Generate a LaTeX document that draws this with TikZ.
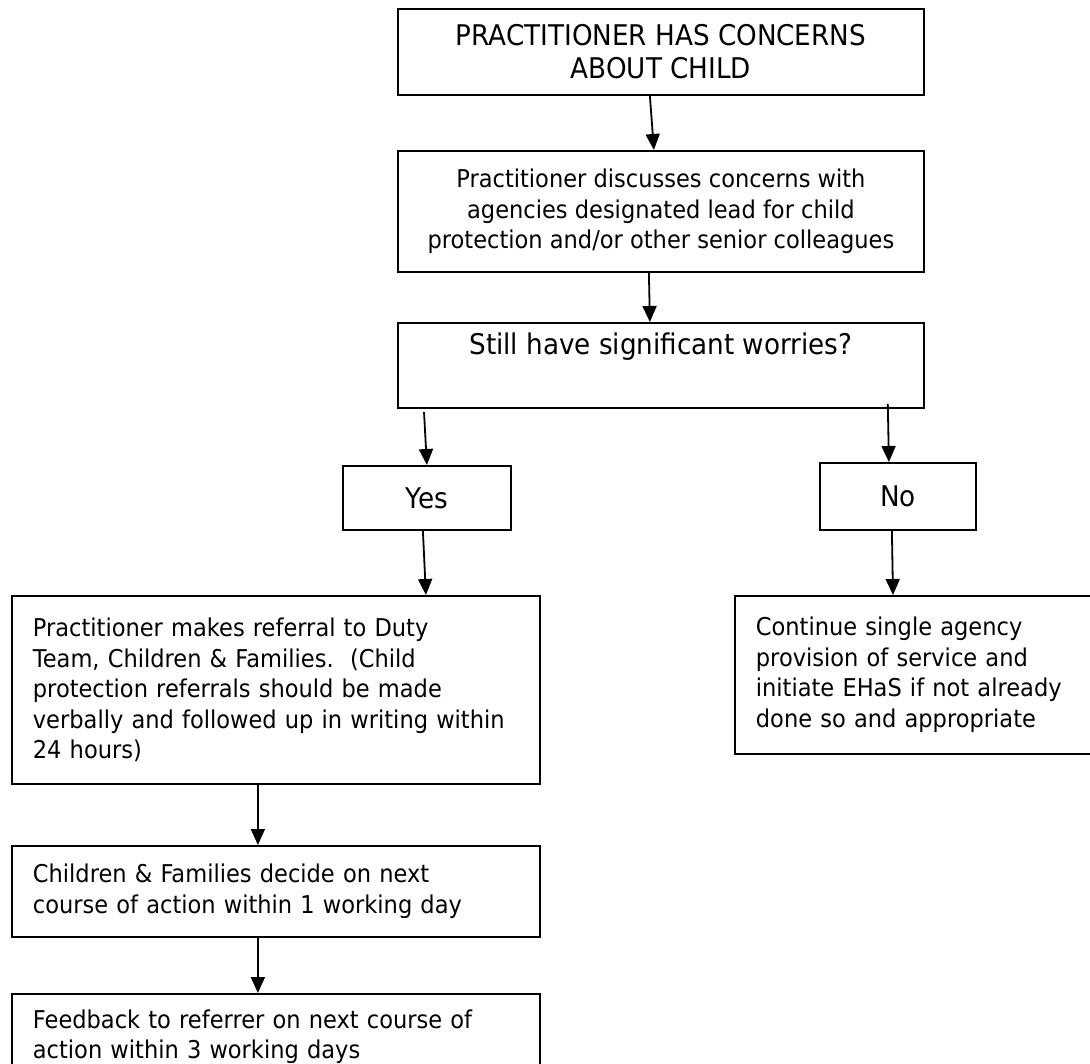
\documentclass[tikz,border=0pt]{standalone}
\usepackage{fontspec}
\setmainfont{DejaVu Sans}[FakeStretch=0.92]
\usetikzlibrary{arrows.meta}

\begin{document}
\begin{tikzpicture}[x=1pt, y=-1pt, every node/.style={draw, line width=1.8pt, inner sep=0pt, anchor=north west, font=\fontsize{24.5}{30.5}\selectfont}, box/.style={align=center, minimum width=#1, font=\fontsize{28.5}{33}\selectfont}, leftbox/.style={align=left, inner xsep=21pt, text width=#1}, link/.style={line width=1.8pt, -{Triangle[length=16pt, width=14pt]}}]
  \useasboundingbox (0,0) rectangle (1090,1064);
  \clip (0,0) rectangle (1090,1064);
  \fill[white] (0,0) rectangle (1090,1064);
  \node[box=526pt, minimum height=86pt](concern) at (397,8) {PRACTITIONER HAS CONCERNS\\ABOUT CHILD};
  \node[box=526pt, minimum height=121pt, font=\fontsize{24.5}{30.5}\selectfont](discuss) at (397,150) {Practitioner discusses concerns with\\agencies designated lead for child\\protection and/or other senior colleagues};
  \node[box=526pt, minimum height=85pt](worries) at (397,322) {Still have significant worries?\\\strut};
  \node[box=168pt, minimum height=64pt](yes) at (342,465) {Yes};
  \node[box=156pt, minimum height=67pt](no) at (819,462) {No};
  \node[leftbox=486pt, minimum height=188pt](referral) at (11,595) {Practitioner makes referral to Duty\\Team, Children \& Families.\ \ (Child\\protection referrals should be made\\verbally and followed up in writing within\\24 hours)};
  \node[leftbox=338pt, minimum height=158pt](single) at (734,595) {Continue single agency\\provision of service and\\initiate EHaS if not already\\done so and appropriate};
  \node[leftbox=486pt, minimum height=91pt](decide) at (11,845) {Children \& Families decide on next\\course of action within 1 working day};
  \node[leftbox=486pt, minimum height=120pt](feedback) at (11,993) {Feedback to referrer on next course of\\action within 3 working days\\\strut};
  \draw[link] ([xshift=-11pt]concern.south) -- ([xshift=-7pt]discuss.north);
  \draw[link] ([xshift=-12pt]discuss.south) -- ([xshift=-11pt]worries.north);
  \draw[link] ([xshift=27pt,yshift=-3pt]worries.south west) -- (yes.north);
  \draw[link] ([xshift=-37pt,yshift=5pt]worries.south east) -- ([xshift=-9pt]no.north);
  \draw[link] ([xshift=-4pt]yes.south) -- ([xshift=150pt]referral.north);
  \draw[link] ([xshift=-6pt]no.south) -- ([xshift=159pt]single.north west);
  \draw[link] ([xshift=-18pt]referral.south) -- ([xshift=-18pt]decide.north);
  \draw[link] ([xshift=-18pt]decide.south) -- ([xshift=-18pt]feedback.north);
\end{tikzpicture}
\end{document}
